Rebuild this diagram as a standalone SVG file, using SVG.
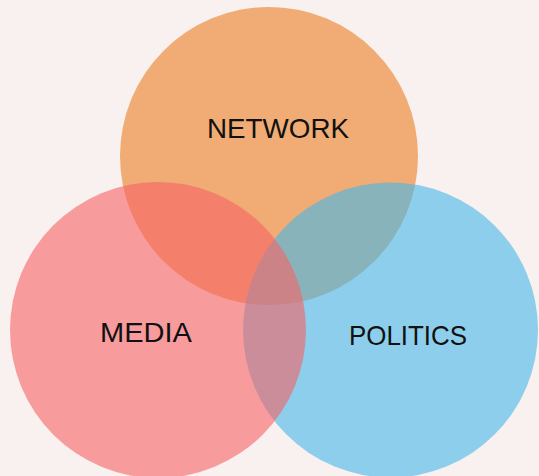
<svg xmlns="http://www.w3.org/2000/svg" width="539" height="476" viewBox="0 0 539 476">
<style>
.c{fill-opacity:.6}
.t{font-family:"Liberation Sans",Arial,sans-serif;font-size:28px;fill:#111;text-anchor:middle}
</style>
<rect width="539" height="476" fill="#F9F1EF"/>
<g id="network"><circle class="c" cx="269" cy="156" r="149" fill="#EA7E22"/></g>
<g id="politics"><circle class="c" cx="390.5" cy="330" r="147.5" fill="#45B8EA"/></g>
<g id="media"><circle class="c" cx="158" cy="330" r="148" fill="#F66265"/></g>
<g id="labels">
<text class="t" x="278" y="138" textLength="142" lengthAdjust="spacingAndGlyphs">NETWORK</text>
<text class="t" x="146" y="342" textLength="92" lengthAdjust="spacingAndGlyphs">MEDIA</text>
<text class="t" x="408" y="345" textLength="118" lengthAdjust="spacingAndGlyphs">POLITICS</text>
</g>
<g id="connectors"/>
</svg>
